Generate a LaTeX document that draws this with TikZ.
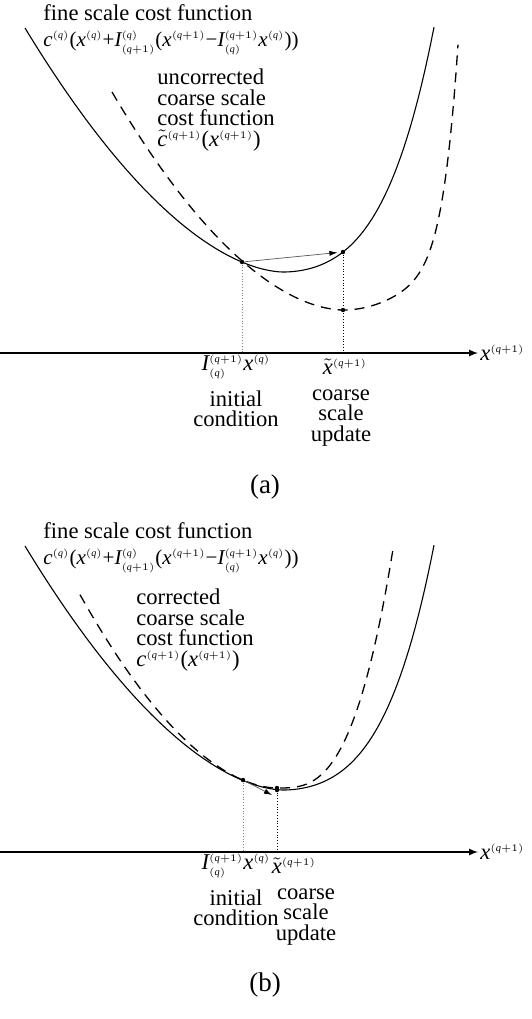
\documentclass[tikz,border=0pt]{standalone}
\usepackage{fontspec}
\setmainfont{Liberation Serif}
\usetikzlibrary{positioning,arrows.meta}
\DeclareMathSizes{11.3}{11.3}{5.2}{4}
\DeclareMathSizes{10.5}{10.5}{5}{4}
\newcommand{\mx}{\mathit{x}}
\newcommand{\mc}{\mathit{c}}
\newcommand{\mI}{\mathit{I}}
\newcommand{\mq}{\mathit{q}}
\newcommand{\op}[1]{\mbox{#1}}

\begin{document}
\begin{tikzpicture}[
  x=0.5pt, y=-0.5pt,
  font=\fontsize{11.3}{10.2}\selectfont,
  finecurve/.style={line width=0.55pt},
  coarsecurve/.style={line width=0.65pt, dash pattern=on 5pt off 3.5pt},
  guide/.style={densely dotted, line width=0.4pt},
  axisline/.style={->, line width=0.55pt},
  stepline/.style={-{Latex[length=4pt,width=2.6pt,color=black]}, line width=0.35pt, gray!70!black},
  dotmark/.style={circle, fill, inner sep=0pt, minimum size=2.2pt},
  textblock/.style={align=left, anchor=west, inner sep=0pt},
  formula/.style={textblock, font=\fontsize{10.5}{11}\selectfont},
  axislabel/.style={align=center, inner sep=0pt},
  panelname/.style={font=\fontsize{13.5}{15}\selectfont},
  >=latex
]
\useasboundingbox (0,0) rectangle (531,1019);

% panel (a)
\node[textblock] (fine-a) at (43,13) {fine scale cost function};
\node[formula] (fineeq-a) at (43,43) {$\mc^{(\mq)}\op{(}\mx^{(\mq)}\op{+}\mI^{(\mq)}_{(\mq+1)}\op{(}\mx^{(\mq+1)}\op{−}\mI^{(\mq+1)}_{(\mq)}\mx^{(\mq)}\op{))}$};
\node[textblock] (coarse-a) at (157,110) {uncorrected\\coarse scale\\cost function\\$\tilde{\mc}^{(\mq+1)}\op{(}\mx^{(\mq+1)}\op{)}$};

\draw[finecurve] plot[domain=25:282.9, samples=60] (\x,{272-46.9*pow((283-\x)/100,1.74)})
  -- plot[domain=283.1:434, samples=50] (\x,{272-45.8*pow((\x-283)/100,2)-27*pow((\x-283)/100,4)});
\draw[coarsecurve] plot[domain=112:342.9, samples=60] (\x,{310-48.3*pow((343-\x)/100,1.8)})
  -- plot[domain=343.1:458, samples=60] (\x,{310-51*pow((\x-343)/100,2)-64.7*pow((\x-343)/100,8)});

\node[dotmark] (init-a) at (242,262) {};
\node[dotmark] (fineupd-a) at (343,252) {};
\node[dotmark] (coarseupd-a) at (343,310) {};
\coordinate (axisstart-a) at (0,353);
\coordinate (axisend-a) at (478,353);
\coordinate (initfoot-a) at (242,353);
\coordinate (updfoot-a) at (343,353);

\draw[guide, gray] (init-a) -- (initfoot-a);
\draw[guide] (fineupd-a) -- (updfoot-a);
\draw[stepline, shorten >=1.5pt] (init-a) -- (fineupd-a);
\draw[axisline] (axisstart-a) -- (axisend-a);
\node[anchor=west, inner sep=1pt] (xlabel-a) at (axisend-a) {$\mx^{(\mq+1)}$};

\node[axislabel] (initlabel-a) at (236,367) {$\mI^{(\mq+1)}_{(\mq)}\mx^{(\mq)}$};
\node[axislabel] (inittext-a) at (236,409) {initial\\condition};
\node[axislabel] (updlabel-a) at (345,367) {$\tilde{\mx}^{(\mq+1)}$};
\node[axislabel] (updtext-a) at (341,418) {coarse\\scale\\update};
\node[panelname] (name-a) at (265,487) {(a)};

% panel (b)
\node[textblock] (fine-b) at (43,531) {fine scale cost function};
\node[formula] (fineeq-b) at (43,561) {$\mc^{(\mq)}\op{(}\mx^{(\mq)}\op{+}\mI^{(\mq)}_{(\mq+1)}\op{(}\mx^{(\mq+1)}\op{−}\mI^{(\mq+1)}_{(\mq)}\mx^{(\mq)}\op{))}$};
\node[textblock] (coarse-b) at (136,630) {corrected\\coarse scale\\cost function\\$\mc^{(\mq+1)}\op{(}\mx^{(\mq+1)}\op{)}$};

\draw[finecurve] plot[domain=25:282.9, samples=60] (\x,{790-46.9*pow((283-\x)/100,1.74)})
  -- plot[domain=283.1:434, samples=50] (\x,{790-45.8*pow((\x-283)/100,2)-27*pow((\x-283)/100,4)});
\draw[coarsecurve] plot[domain=80:276.9, samples=60] (\x,{788-56.3*pow((277-\x)/100,1.82)})
  -- plot[domain=277.1:393, samples=50] (\x,{788-153*pow((\x-277)/100,3)});

\node[dotmark] (init-b) at (243,780) {};
\node[dotmark] (coarseupd-b) at (277,788) {};
\node[dotmark] (fineupd-b) at (277,790) {};
\coordinate (arrowend-b) at (272,795);
\coordinate (axisstart-b) at (0,852);
\coordinate (axisend-b) at (478,852);
\coordinate (initfoot-b) at (243,852);
\coordinate (updfoot-b) at (277,852);

\draw[guide, gray] (init-b) -- (initfoot-b);
\draw[guide] (fineupd-b) -- (updfoot-b);
\draw[stepline] (init-b) -- (arrowend-b);
\draw[axisline] (axisstart-b) -- (axisend-b);
\node[anchor=west, inner sep=1pt] (xlabel-b) at (axisend-b) {$\mx^{(\mq+1)}$};

\node[axislabel] (initlabel-b) at (236,866) {$\mI^{(\mq+1)}_{(\mq)}\mx^{(\mq)}$};
\node[axislabel] (inittext-b) at (236,908) {initial\\condition};
\node[axislabel] (updlabel-b) at (294,866) {$\tilde{\mx}^{(\mq+1)}$};
\node[axislabel] (updtext-b) at (306,917) {coarse\\scale\\update};
\node[panelname] (name-b) at (265,985) {(b)};
\end{tikzpicture}
\end{document}
